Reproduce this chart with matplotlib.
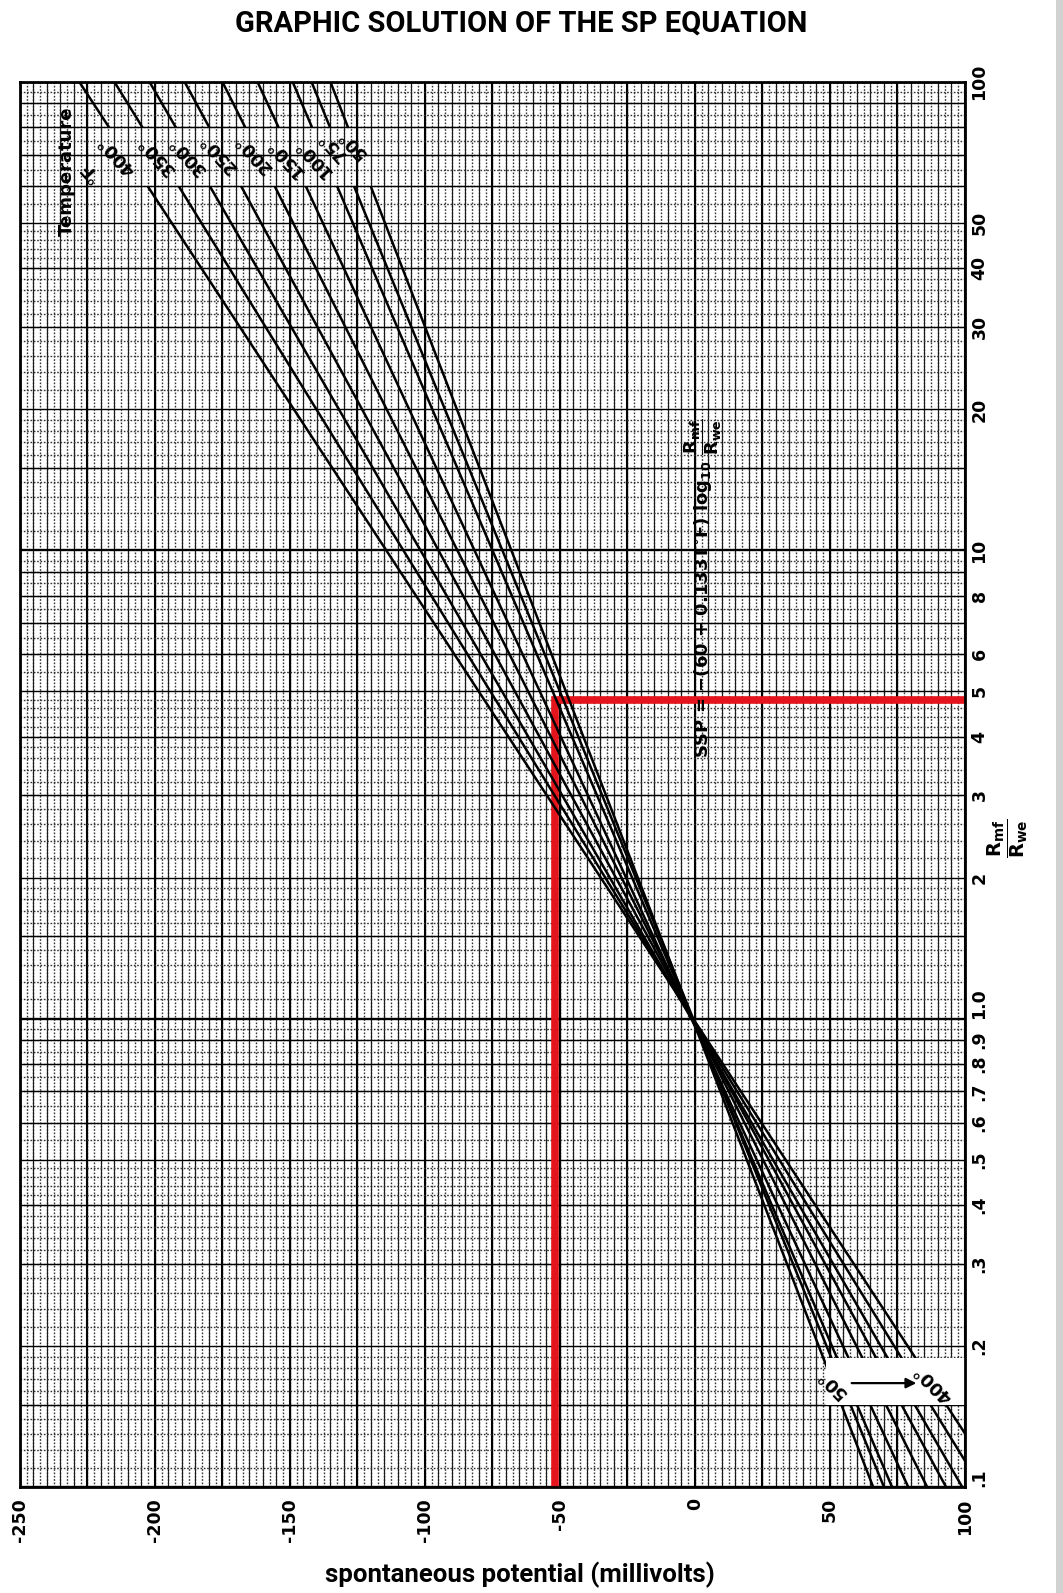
import matplotlib.pyplot as plt
import numpy as np
from matplotlib.path import Path
from matplotlib.patches import PathPatch, Rectangle
from matplotlib.ticker import NullLocator

plt.rcParams['font.family'] = ['DejaVu Sans']
plt.rcParams['mathtext.default'] = 'bf'

# temperature lines, read where each line meets R=100 and R=0.1
temp_labels = ['50°', '75°', '100°', '150°', '200°', '250°', '300°', '350°', '400°']
sp_at_100 = [-135, -142, -149, -162, -175, -189, -202, -215, -228]
sp_at_01 = [66, 70, 73, 79, 86, 93, 99, 106, 113]
ratio_ends = [100, 0.1]

# red example reading
red_sp = -52
red_ratio = 4.8

sp_ticks = [-250, -200, -150, -100, -50, 0, 50, 100]
ratio_ticks = [0.1, 0.2, 0.3, 0.4, 0.5, 0.6, 0.7, 0.8, 0.9, 1, 2, 3, 4, 5, 6, 8,
               10, 20, 30, 40, 50, 100]
ratio_labels = ['.1', '.2', '.3', '.4', '.5', '.6', '.7', '.8', '.9', '1.0', '2', '3',
                '4', '5', '6', '8', '10', '20', '30', '40', '50', '100']

fig = plt.figure(figsize=(10.63, 15.93), dpi=100)
ax = fig.add_axes([0.0188, 0.0665, 0.889, 0.882])
ax.set_yscale('log')
ax.set_xlim(-250, 100)
ax.set_ylim(0.1, 100)

# graph paper
ax.vlines(np.arange(-250, 100.1, 2.5), 0.1, 100, colors='0.2', lw=1.0,
          linestyles=(0, (1.2, 1.2)), zorder=1)
ax.vlines(np.arange(-250, 100.1, 5), 0.1, 100, colors='0.1', lw=0.85, zorder=1)
ax.vlines(np.arange(-250, 100.1, 25), 0.1, 100, colors='black', lw=1.5, zorder=1)
for d in [0.1, 1, 10]:
    fine = d * np.concatenate([np.arange(1.1, 2, 0.1), np.arange(2.2, 5, 0.2),
                               np.arange(5.5, 10, 0.5)])
    ax.hlines(fine, -250, 100, colors='0.2', lw=1.0, linestyles=(0, (1.2, 1.2)),
              zorder=1)
    ax.hlines(d * np.array([1.5, 2, 3, 4, 5, 6, 7, 8, 9]), -250, 100,
              colors='black', lw=1.0, zorder=1)
ax.hlines([0.1, 1, 10, 100], -250, 100, colors='black', lw=1.7, zorder=1)

# white label box near the bottom right
ax.add_patch(Rectangle((48.5, 0.15), 51.5, 0.039, facecolor='white',
                       edgecolor='none', zorder=1.5))

# clip path so the lines break where the labels sit
def rect(x0, x1, y0, y1, ccw=True):
    pts = [(x0, y0), (x1, y0), (x1, y1), (x0, y1)]
    if not ccw:
        pts = pts[::-1]
    return pts + [pts[0]]

verts = rect(-260, 110, 0.09, 110) + rect(-260, 110, 60, 80, False) + \
    rect(48.5, 110, 0.15, 0.189, False)
codes = ([Path.MOVETO] + [Path.LINETO] * 3 + [Path.CLOSEPOLY]) * 3
clip = PathPatch(Path(verts, codes), transform=ax.transData)

# red example
ax.plot([red_sp, red_sp, 100], [0.1, red_ratio, red_ratio], color='#e3141b',
        lw=5.5, solid_joinstyle='miter', zorder=2.5)

for s0, s1 in zip(sp_at_100, sp_at_01):
    ln, = ax.plot([s0, s1], ratio_ends, color='black', lw=1.8, zorder=3)
    ln.set_clip_path(clip)

# labels in the top band
top_pos = [(-126.7, 73.7), (-134.1, 73.3), (-141.5, 69.2), (-151.9, 69.2),
           (-163.7, 70.5), (-176.7, 70.5), (-188.1, 69.8), (-199.3, 69.8),
           (-214.1, 69.8)]
for lab, (x, y) in zip(temp_labels, top_pos):
    ax.text(x, y, lab, rotation=132, ha='center', va='center', fontsize=13,
            fontweight='bold', zorder=4)
ax.text(-224.1, 64.3, '°F', rotation=132, ha='center', va='center', fontsize=13,
        fontweight='bold', zorder=4)
ax.text(-232.6, 64.5, 'Temperature', rotation=90, ha='center', va='center',
        fontsize=13, fontweight='bold', zorder=4)

# labels in the bottom band
ax.text(50.7, 0.1667, temp_labels[0], rotation=135, ha='center', va='center',
        fontsize=13, fontweight='bold', zorder=4)
ax.text(88.1, 0.1667, temp_labels[-1], rotation=135, ha='center', va='center',
        fontsize=13, fontweight='bold', zorder=4)
ax.annotate('', xy=(83, 0.1667), xytext=(57, 0.1667), zorder=4,
            arrowprops=dict(arrowstyle='-|>', color='black', lw=1.6, mutation_scale=15))

# equation
ax.text(3, 8.3, r'SSP = $-$(60 + 0.133T$^{\circ}$F) log$_{10}$ $\dfrac{R_{mf}}{R_{we}}$',
        rotation=90, ha='center', va='center', fontsize=13, fontweight='bold', zorder=4)

# axes and ticks
ax.set_xticks(sp_ticks)
ax.set_xticklabels([str(v) for v in sp_ticks], rotation=90, fontsize=12.5,
                   fontweight='bold')
ax.yaxis.tick_right()
ax.yaxis.set_minor_locator(NullLocator())
ax.set_yticks(ratio_ticks)
ylabs = ax.set_yticklabels(ratio_labels, rotation=90, fontsize=12.5, fontweight='bold',
                           va='center')
for t in ylabs:
    if t.get_text() in ('.1', '1.0'):
        t.set_va('bottom')
ax.tick_params(axis='x', length=0, pad=8)
ax.tick_params(axis='y', length=0, pad=4)
for sp in ax.spines.values():
    sp.set_linewidth(2)
    sp.set_zorder(5)

fig.text(0.49, 0.985, 'GRAPHIC SOLUTION OF THE SP EQUATION', ha='center', va='center',
         fontsize=21, fontweight='bold', family='Roboto')
fig.text(0.489, 0.0113, 'spontaneous potential (millivolts)', ha='center', va='center',
         fontsize=18.5, fontweight='bold', family='Roboto')
fig.text(0.948, 0.474, r'$\dfrac{R_{mf}}{R_{we}}$', rotation=90, ha='center',
         va='center', fontsize=14)
fig.patches.append(Rectangle((0.993, 0), 0.007, 1, transform=fig.transFigure,
                             facecolor='0.82', edgecolor='none'))

fig.savefig('out.png', dpi=100)
